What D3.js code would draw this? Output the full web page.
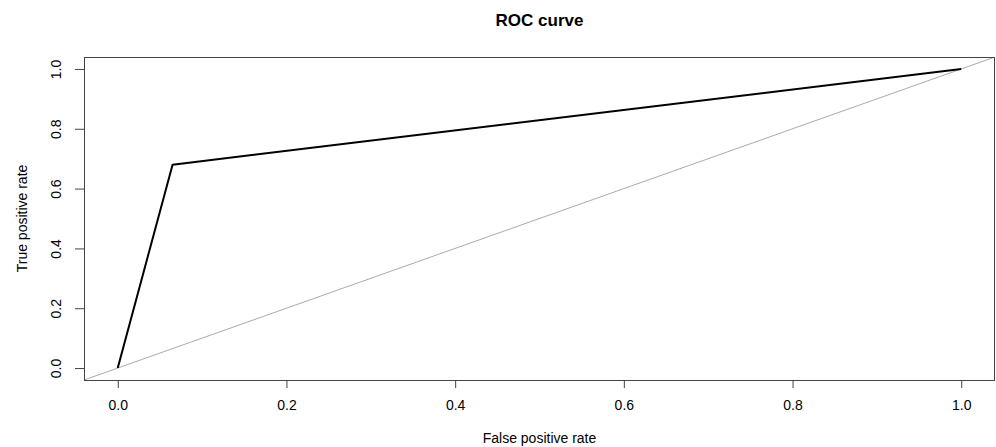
<!DOCTYPE html>
<html>
<head>
<meta charset="utf-8">
<script src="https://cdn.jsdelivr.net/npm/d3@7"></script>
<style>
  body { margin: 0; background: #fff; }
  text { font-family: "Liberation Sans", Arial, sans-serif; fill: #000; }
</style>
</head>
<body>
<div id="chart"></div>
<script>
// ROC curve points (false positive rate, true positive rate)
var fpr = [0, 0.065, 1];
var tpr = [0, 0.68, 1];
var xTicks = [0, 0.2, 0.4, 0.6, 0.8, 1.0];
var yTicks = [0, 0.2, 0.4, 0.6, 0.8, 1.0];
var diagonal = [[-0.04, -0.04], [1.04, 1.04]];

var width = 996, height = 447;
var box = { left: 84, right: 995, top: 57, bottom: 380 };

var svg = d3.select("#chart").append("svg")
  .attr("width", width)
  .attr("height", height);

// R pads the range by 4% on each side
var x = d3.scaleLinear().domain([-0.04, 1.04]).range([box.left, box.right]);
var y = d3.scaleLinear().domain([-0.04, 1.04]).range([box.bottom, box.top]);

svg.append("defs").append("clipPath").attr("id", "clip")
  .append("rect")
  .attr("x", box.left).attr("y", box.top)
  .attr("width", box.right - box.left).attr("height", box.bottom - box.top);

// diagonal reference line
svg.append("line")
  .attr("clip-path", "url(#clip)")
  .attr("x1", x(diagonal[0][0])).attr("y1", y(diagonal[0][1]))
  .attr("x2", x(diagonal[1][0])).attr("y2", y(diagonal[1][1]))
  .attr("stroke", "#aaaaaa")
  .attr("stroke-width", 1);

// ROC line
var line = d3.line()
  .x(function(d, i) { return x(fpr[i]); })
  .y(function(d, i) { return y(tpr[i]); });

svg.append("path")
  .datum(fpr)
  .attr("d", line)
  .attr("fill", "none")
  .attr("stroke", "#000")
  .attr("stroke-width", 2)
  .attr("stroke-linejoin", "round");

// plot box
svg.append("rect")
  .attr("x", box.left + 0.5).attr("y", box.top + 0.5)
  .attr("width", box.right - box.left - 1).attr("height", box.bottom - box.top)
  .attr("fill", "none")
  .attr("stroke", "#444")
  .attr("stroke-width", 1);

// x axis
var xAxis = d3.axisBottom(x)
  .tickValues(xTicks)
  .tickFormat(d3.format(".1f"))
  .tickSizeInner(8)
  .tickSizeOuter(0)
  .tickPadding(12);

var gx = svg.append("g")
  .attr("transform", "translate(0," + box.bottom + ")")
  .call(xAxis);
gx.select(".domain").remove();
gx.selectAll("line").attr("stroke", "#444");
gx.selectAll("text")
  .style("font-size", "14px")
  .style("font-family", "Liberation Sans, Arial, sans-serif")
  .attr("fill", "#000");

// y axis
var yAxis = d3.axisLeft(y)
  .tickValues(yTicks)
  .tickFormat(d3.format(".1f"))
  .tickSizeInner(9)
  .tickSizeOuter(0)
  .tickPadding(0);

var gy = svg.append("g")
  .attr("transform", "translate(" + box.left + ",0)")
  .call(yAxis);
gy.select(".domain").remove();
gy.selectAll("line").attr("stroke", "#444");
gy.selectAll("text")
  .attr("x", 0)
  .attr("dy", null)
  .attr("transform", "translate(-27,0) rotate(-90)")
  .attr("text-anchor", "middle")
  .attr("dominant-baseline", "middle")
  .style("font-size", "14px")
  .style("font-family", "Liberation Sans, Arial, sans-serif")
  .attr("fill", "#000");

// title
svg.append("text")
  .attr("x", (box.left + box.right) / 2)
  .attr("y", 26)
  .attr("text-anchor", "middle")
  .style("font-size", "17px")
  .style("font-weight", "bold")
  .text("ROC curve");

// axis titles
svg.append("text")
  .attr("x", (box.left + box.right) / 2)
  .attr("y", 443)
  .attr("text-anchor", "middle")
  .style("font-size", "14px")
  .text("False positive rate");

svg.append("text")
  .attr("transform", "translate(27," + ((box.top + box.bottom) / 2) + ") rotate(-90)")
  .attr("text-anchor", "middle")
  .style("font-size", "14px")
  .text("True positive rate");
</script>
</body>
</html>
